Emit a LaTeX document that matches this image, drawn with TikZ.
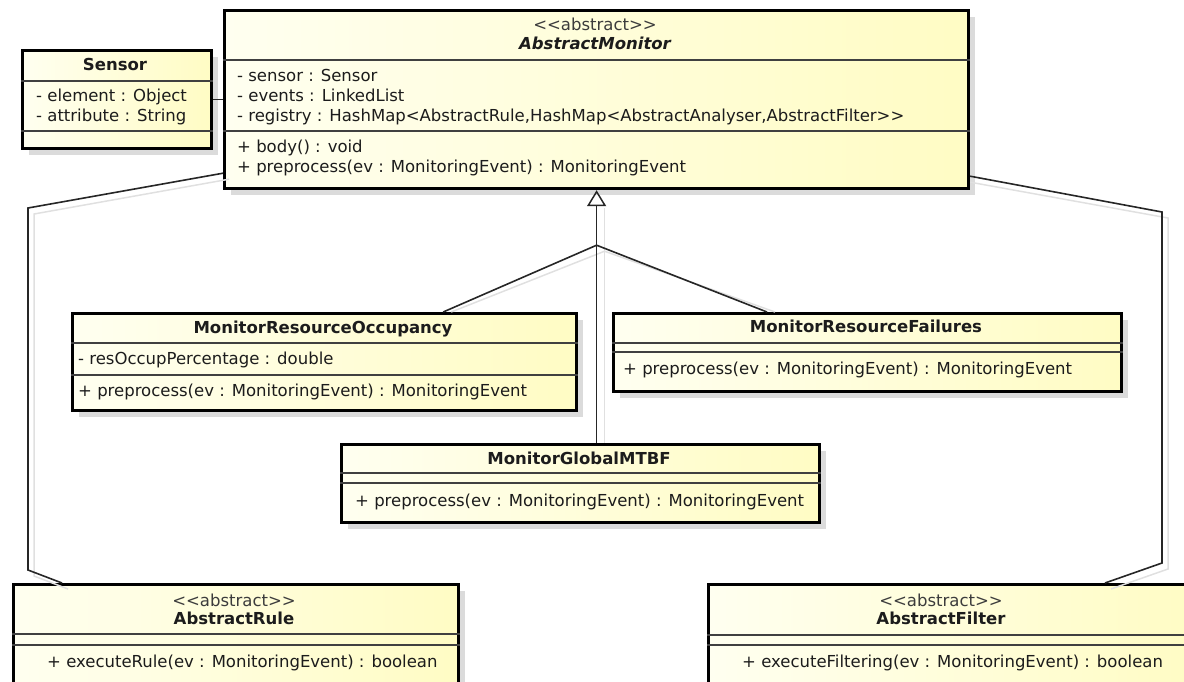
\documentclass[tikz,border=0pt]{standalone}
\usepackage{fontspec}
\setmainfont{DejaVu Sans}
\usetikzlibrary{shadows,arrows.meta,calc}
\definecolor{yfillA}{RGB}{255,255,240}
\definecolor{yfillB}{RGB}{255,252,196}
\definecolor{txtc}{RGB}{28,28,28}
\definecolor{stc}{RGB}{60,60,60}
\tikzset{
  cls/.style={draw=black, line width=3.2pt, rectangle, anchor=north west, inner sep=0pt,
    left color=yfillA, right color=yfillB,
    drop shadow={shadow xshift=6pt, shadow yshift=-6pt, fill=black!14, opacity=1}},
  sepline/.style={draw=black!75, line width=1.1pt},
  txt/.style={font=\fontsize{16.5}{19}\selectfont, text=txtc, inner sep=0pt, anchor=west, text height=12pt, text depth=3.5pt},
  ttl/.style={font=\fontsize{16.5}{19}\selectfont\bfseries, text=txtc, inner sep=0pt, text height=12pt, text depth=3.5pt},
  stereo/.style={font=\fontsize{16.5}{19}\selectfont, text=stc, inner sep=0pt, text height=12pt, text depth=3.5pt},
  conn/.style={draw=black!85, line width=1.6pt},
  connshadow/.style={draw=black!12, line width=1.5pt},
}
\begin{document}
\begin{tikzpicture}[x=1pt,y=-1pt]
\useasboundingbox (0,0) rectangle (1184,681);
\clip (0,0) rectangle (1184,681);

% ---------- boxes ----------
\node[cls, minimum width=189pt, minimum height=98pt] (sensor) at (21,49) {};
\node[cls, minimum width=744pt, minimum height=178pt] (am) at (223,9) {};
\node[cls, minimum width=504pt, minimum height=97pt] (mro) at (71,312) {};
\node[cls, minimum width=508pt, minimum height=78pt] (mrf) at (612,312) {};
\node[cls, minimum width=478pt, minimum height=78pt] (mgbf) at (340,443) {};
\node[cls, minimum width=445pt, minimum height=130pt] (ar) at (12,583) {};
\node[cls, minimum width=490pt, minimum height=130pt] (af) at (707,583) {};

% ---------- coordinates for connectors ----------
\coordinate (l0) at ($(am.south west)+(0,-17)$);
\coordinate (l1) at (28,208);
\coordinate (l2) at (28,570);
\coordinate (l3) at ($(ar.north west)+(50,0)$);
\coordinate (r0) at ($(am.south east)+(0,-14)$);
\coordinate (r1) at (1162,212);
\coordinate (r2) at (1162,563);
\coordinate (r3) at ($(af.north west)+(398,0)$);
\coordinate (jn) at ($(am.south)+(0,55)$);
\coordinate (mroin) at ($(mro.north east)+(-135,0)$);
\coordinate (mrfin) at ($(mrf.north west)+(155,0)$);
\coordinate (mgin) at (am.south |- mgbf.north);

% ---------- connector shadows ----------
\draw[connshadow] ([shift={(6,6)}]l0) -- ([shift={(6,6)}]l1) -- ([shift={(6,6)}]l2) -- ([shift={(6,6)}]l3);
\draw[connshadow] ([shift={(0,6)}]r0) -- ([shift={(6,6)}]r1) -- ([shift={(6,6)}]r2) -- ([shift={(6,6)}]r3);
\draw[connshadow] ([shift={(8,18)}]am.south) -- ([shift={(8,6)}]jn) -- ([shift={(8,0)}]mgin);
\draw[connshadow] ([shift={(8,6)}]jn) -- ([shift={(8,0)}]mroin);
\draw[connshadow] ([shift={(8,6)}]jn) -- ([shift={(8,0)}]mrfin);

% ---------- separators ----------
\draw[sepline] (sensor.west |- 0,81) -- (sensor.east |- 0,81);
\draw[sepline] (sensor.west |- 0,131) -- (sensor.east |- 0,131);
\draw[sepline] (am.west |- 0,60) -- (am.east |- 0,60);
\draw[sepline] (am.west |- 0,131) -- (am.east |- 0,131);
\draw[sepline] (mro.west |- 0,343) -- (mro.east |- 0,343);
\draw[sepline] (mro.west |- 0,375) -- (mro.east |- 0,375);
\draw[sepline] (mrf.west |- 0,343) -- (mrf.east |- 0,343);
\draw[sepline] (mrf.west |- 0,352) -- (mrf.east |- 0,352);
\draw[sepline] (mgbf.west |- 0,473) -- (mgbf.east |- 0,473);
\draw[sepline] (mgbf.west |- 0,483) -- (mgbf.east |- 0,483);
\draw[sepline] (ar.west |- 0,634) -- (ar.east |- 0,634);
\draw[sepline] (ar.west |- 0,645) -- (ar.east |- 0,645);
\draw[sepline] (af.west |- 0,635) -- (af.east |- 0,635);
\draw[sepline] (af.west |- 0,645) -- (af.east |- 0,645);

% ---------- texts ----------
\node[ttl] (sensorT) at (115,66) {Sensor};
\node[txt] (sensorA1) at (36,97) {- element : Object};
\node[txt] (sensorA2) at (36,117) {- attribute : String};

\node[stereo] (amS) at (595,26) {<{}<abstract>{}>};
\node[ttl, font=\fontsize{16.5}{19}\selectfont\bfseries\itshape] (amT) at (595,45) {AbstractMonitor};
\node[txt] (amA1) at (237,77) {- sensor : Sensor};
\node[txt] (amA2) at (237,97) {- events : LinkedList};
\node[txt] (amA3) at (237,117) {- registry : HashMap<AbstractRule,HashMap<AbstractAnalyser,AbstractFilter>{}>};
\node[txt] (amO1) at (237,148) {+ body() : void};
\node[txt] (amO2) at (237,168) {+ preprocess(ev : MonitoringEvent) : MonitoringEvent};

\node[ttl] (mroT) at (323,329) {MonitorResourceOccupancy};
\node[txt] (mroA1) at (78,360) {- resOccupPercentage : double};
\node[txt] (mroO1) at (78,392) {+ preprocess(ev : MonitoringEvent) : MonitoringEvent};

\node[ttl] (mrfT) at (866,328) {MonitorResourceFailures};
\node[txt] (mrfO1) at (623,370) {+ preprocess(ev : MonitoringEvent) : MonitoringEvent};

\node[ttl] (mgT) at (579,460) {MonitorGlobalMTBF};
\node[txt] (mgO1) at (355,502) {+ preprocess(ev : MonitoringEvent) : MonitoringEvent};

\node[stereo] (arS) at (234,602) {<{}<abstract>{}>};
\node[ttl] (arT) at (234,620) {AbstractRule};
\node[txt] (arO1) at (47,663) {+ executeRule(ev : MonitoringEvent) : boolean};

\node[stereo] (afS) at (941,602) {<{}<abstract>{}>};
\node[ttl] (afT) at (941,620) {AbstractFilter};
\node[txt] (afO1) at (742,663) {+ executeFiltering(ev : MonitoringEvent) : boolean};

% ---------- connectors ----------
\draw[conn] (sensor.east) -- (sensor.east -| am.west);
\draw[conn] (l0) -- (l1) -- (l2) -- (l3);
\draw[conn] (r0) -- (r1) -- (r2) -- (r3);
\draw[conn] (jn) -- (mroin);
\draw[conn] (jn) -- (mrfin);
\draw[conn] (jn) -- (mgin);
\draw[conn, -{Triangle[open, length=16pt, width=19pt, line width=1.5pt]}] (jn) -- (am.south);
\end{tikzpicture}
\end{document}
